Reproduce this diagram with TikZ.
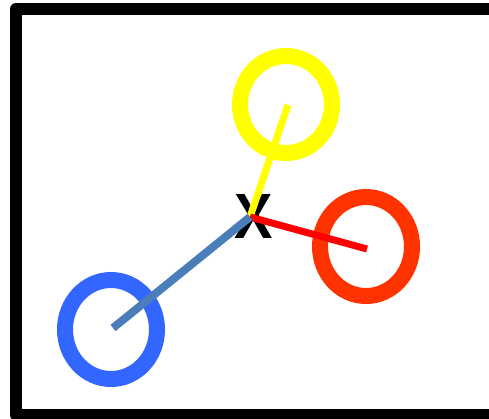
\documentclass[tikz,border=0pt]{standalone}
\usepackage{fontspec}
\setmainfont{Liberation Sans}
\definecolor{ringyellow}{HTML}{FFFF00}
\definecolor{ringred}{HTML}{FF3300}
\definecolor{ringblue}{HTML}{3366FF}
\definecolor{lineblue}{HTML}{4A7EBB}
\definecolor{linered}{HTML}{FF0000}
\begin{document}
\begin{tikzpicture}[x=1pt,y=-1pt,
  ring/.style={line width=16pt},
  spoke/.style={line width=7pt},
  frame/.style={line width=12pt,line join=round}]
\useasboundingbox (0,0) rectangle (489,418);
\draw[frame] (500,9) -- (16,9) -- (16,415) -- (500,415);
\draw[ring,ringyellow] (286,104.5) ellipse [x radius=46, y radius=48.5];
\draw[ring,ringred] (366,246.5) ellipse [x radius=46, y radius=49.5];
\draw[ring,ringblue] (111,329.5) ellipse [x radius=46, y radius=49.5];
\node[font=\bfseries\fontsize{64}{64}\selectfont,inner sep=0pt,xscale=0.9] (x) at (254,216) {X};
\coordinate (c) at (250,217);
\coordinate (yc) at (288,105);
\coordinate (rc) at (367,249);
\coordinate (bc) at (113,328);
\draw[spoke,ringyellow] (c) -- (yc);
\draw[spoke,linered] (c) -- (rc);
\draw[spoke,lineblue,line width=8pt] (c) -- (bc);
\end{tikzpicture}
\end{document}
